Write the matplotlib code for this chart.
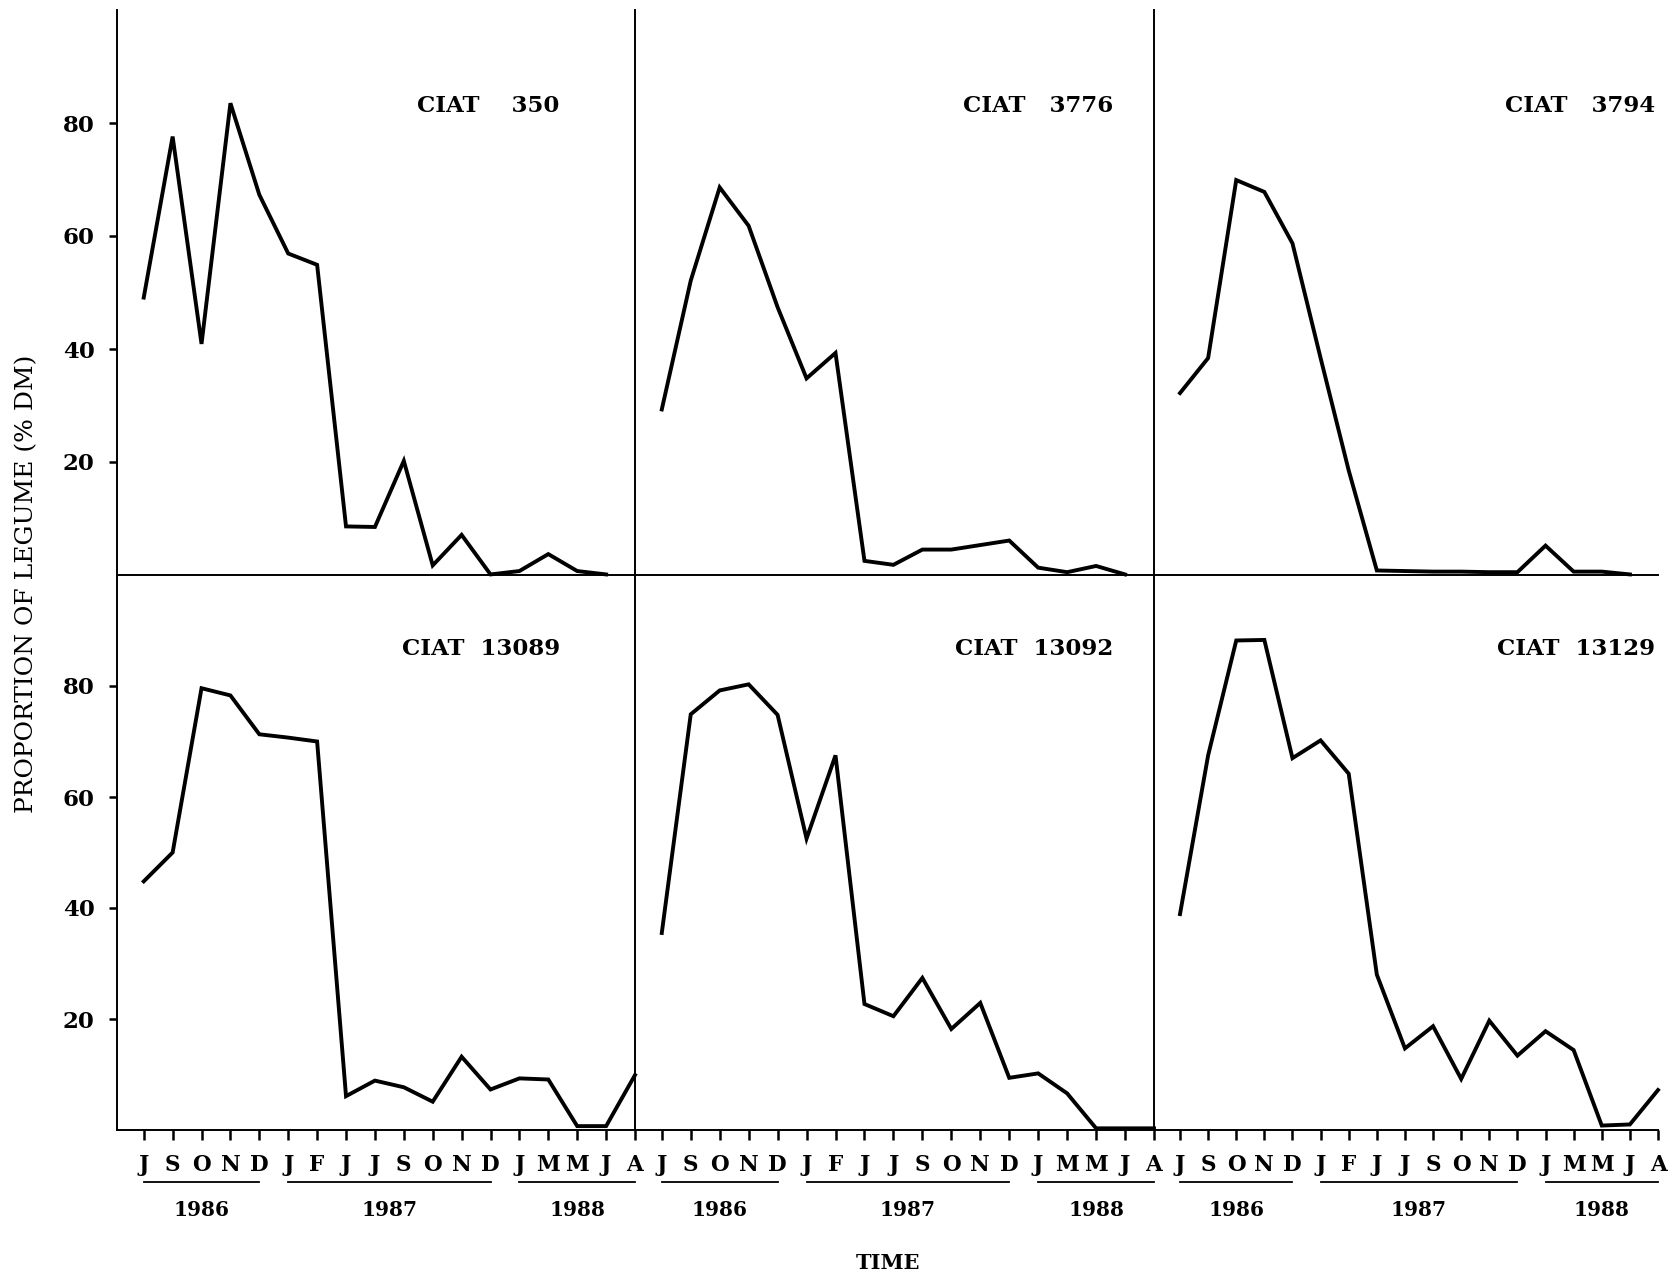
import matplotlib
matplotlib.use("Agg")
import matplotlib.pyplot as plt

#%%
# data (% DM legume), one value per sampling month
months = ["J", "S", "O", "N", "D", "J", "F", "J", "J", "S", "O", "N", "D",
          "J", "M", "M", "J", "A"]
years = ["1986", "1987", "1988"]
year_start = [0, 5, 13]
year_end = [4, 12, 17]

ciat_350 = [49.1, 77.6, 40.9, 83.5, 67.3, 56.9, 54.9, 8.6, 8.5, 20.2, 1.7,
            7.1, 0.1, 0.7, 3.7, 0.7, 0.1]
ciat_3776 = [29.3, 52.1, 68.6, 61.8, 47.4, 34.8, 39.3, 2.5, 1.8, 4.5, 4.5,
             5.3, 6.1, 1.3, 0.5, 1.6, 0.1]
ciat_3794 = [32.2, 38.4, 69.9, 67.8, 58.7, 38.4, 18.5, 0.8, 0.7, 0.6, 0.6,
             0.5, 0.5, 5.2, 0.6, 0.6, 0.1]
ciat_13089 = [44.8, 50.0, 79.6, 78.3, 71.3, 70.7, 70.0, 6.1, 8.9, 7.7, 5.1,
              13.2, 7.3, 9.3, 9.1, 0.7, 0.7, 9.9]
ciat_13092 = [35.5, 74.9, 79.2, 80.3, 74.8, 52.5, 67.5, 22.7, 20.5, 27.4,
              18.2, 22.9, 9.4, 10.2, 6.6, 0.3, 0.3, 0.3]
ciat_13129 = [38.9, 67.5, 88.2, 88.3, 67.0, 70.2, 64.2, 28.0, 14.7, 18.7,
              9.2, 19.7, 13.4, 17.8, 14.4, 0.8, 1.0, 7.2]

top_names = ["CIAT    350", "CIAT   3776", "CIAT   3794"]
bottom_names = ["CIAT  13089", "CIAT  13092", "CIAT  13129"]
top_series = [ciat_350, ciat_3776, ciat_3794]
bottom_series = [ciat_13089, ciat_13092, ciat_13129]

#%%
W, H = 1681, 1277
fig = plt.figure(figsize=(W / 100, H / 100), dpi=100)
fig.patch.set_facecolor("white")

SERIF = ["DejaVu Serif"]

# panel edges in pixels
col_edges = [(117, 635), (635, 1154), (1154, 1658)]
row_edges = [(10, 575), (575, 1130)]
title_x = [14.4, 15.6, 16.9]
title_y = [83, 86.7]


def px_rect(x0, x1, y0, y1):
    return [x0 / W, 1 - y1 / H, (x1 - x0) / W, (y1 - y0) / H]


for r, (names, series) in enumerate([(top_names, top_series),
                                      (bottom_names, bottom_series)]):
    for c in range(3):
        x0, x1 = col_edges[c]
        y0, y1 = row_edges[r]
        ax = fig.add_axes(px_rect(x0, x1, y0, y1))
        ax.set_facecolor("none")
        vals = series[c]
        ax.plot(range(len(vals)), vals, color="black", lw=2.8,
                solid_joinstyle="miter", clip_on=False)
        ax.set_xlim(-0.925, 17)
        ax.set_ylim(0, 100)
        for s in ["top", "right"]:
            ax.spines[s].set_visible(False)
        for s in ["left", "bottom"]:
            ax.spines[s].set_linewidth(1.4)
        ax.text(title_x[c], title_y[r], names[c], ha="right", va="center",
                fontsize=16.5, fontweight="bold", family=SERIF)

        if c == 0:
            ax.set_yticks([20, 40, 60, 80])
            ax.set_yticklabels(["20", "40", "60", "80"], fontsize=16.5,
                               fontweight="bold", family=SERIF)
            ax.tick_params(axis="y", direction="out", length=6, width=1.8,
                           pad=10)
        else:
            ax.set_yticks([])

        if r == 1:
            ax.set_xticks(range(18))
            ax.set_xticklabels(months, fontsize=15.5, fontweight="bold",
                               family=SERIF)
            ax.tick_params(axis="x", direction="out", length=7, width=1.8,
                           pad=10)
            tr = ax.get_xaxis_transform()
            for yr, s, e in zip(years, year_start, year_end):
                ax.plot([s, e], [-0.094, -0.094], color="black", lw=1.3,
                        transform=tr, clip_on=False)
                ax.text((s + e) / 2, -0.145, yr, transform=tr, ha="center",
                        va="center", fontsize=14.5, fontweight="bold",
                        family=SERIF)
        else:
            ax.set_xticks([])

fig.text(27 / W, 1 - 584 / H, "PROPORTION OF LEGUME (% DM)", rotation=90,
         ha="center", va="center", fontsize=18, family=SERIF)
fig.text(888 / W, 1 - 1263 / H, "TIME", ha="center", va="center",
         fontsize=15, fontweight="bold", family=SERIF)

fig.savefig("out.png", dpi=100)
